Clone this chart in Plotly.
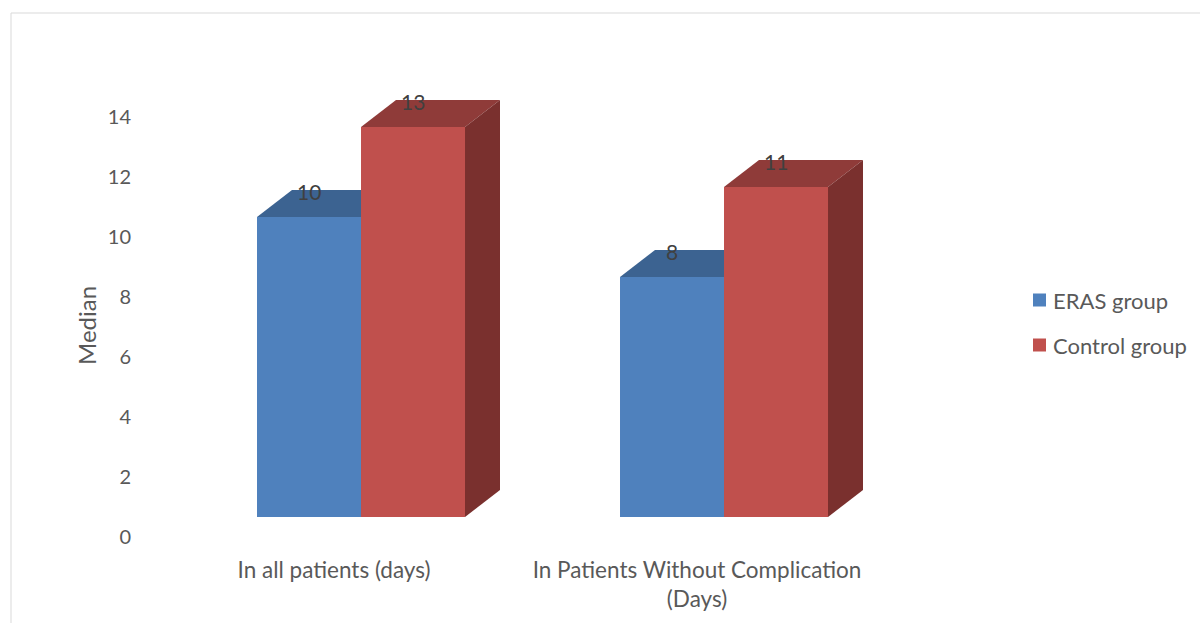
import plotly.graph_objects as go

# Median length of stay (days), 3D-style clustered columns
categories = ["In all patients (days)", "In Patients Without Complication<br>(Days)"]
series_names = ["ERAS group", "Control group"]
eras_values = [10, 8]
control_values = [13, 11]
y_ticks = [0, 2, 4, 6, 8, 10, 12, 14]

# face colours per series: front, top, side
face_colors = {
    "ERAS group": ("#4F81BD", "#3C6391", "#345782"),
    "Control group": ("#C0504D", "#8F3B39", "#7A302E"),
}

# geometry of the pseudo-3D columns (in axis units)
bar_w = 0.2865
first_bar_left = -0.2121
base = 0.667
depth_x = 0.0964
depth_y = 0.9

# plot area in pixels and the matching axis ranges
W, H = 1200, 623
L, R, T, B = 136, 1000, 40, 554
px_per_x = 363.0
px_per_y = 30.0
x_at_zero_px = 334.0
y_at_zero_px = 537.0
x_range = [(L - x_at_zero_px) / px_per_x, (R - x_at_zero_px) / px_per_x]
y_range = [(y_at_zero_px - B) / px_per_y, (y_at_zero_px - T) / px_per_y]


def px_x(p):
    return (p - L) / (R - L)


def px_y(p):
    return (B - p) / (B - T)


font_family = "Lato, 'Open Sans', sans-serif"
text_color = "#595959"

fig = go.Figure()


def poly(xs, ys, color):
    fig.add_trace(go.Scatter(
        x=xs + [xs[0]], y=ys + [ys[0]], fill="toself", fillcolor=color,
        mode="lines", line=dict(width=0, color=color),
        hoverinfo="skip", showlegend=False,
    ))


annotations = []
for ci, cat in enumerate(categories):
    for si, (name, vals) in enumerate(zip(series_names, [eras_values, control_values])):
        v = vals[ci]
        x0 = ci + first_bar_left + si * bar_w
        x1 = x0 + bar_w
        y0 = base
        y1 = base + v
        front, top, side = face_colors[name]
        # top face
        poly([x0, x1, x1 + depth_x, x0 + depth_x], [y1, y1, y1 + depth_y, y1 + depth_y], top)
        # right side face
        poly([x1, x1 + depth_x, x1 + depth_x, x1], [y0, y0 + depth_y, y1 + depth_y, y1], side)
        # front face
        poly([x0, x1, x1, x0], [y0, y0, y1, y1], front)
        annotations.append(dict(
            x=(x0 + x1) / 2, y=y1 + depth_y, xref="x", yref="y",
            text=str(v), showarrow=False, yshift=-2,
            font=dict(family=font_family, size=21, color="#404040"),
        ))

# legend: coloured squares with series names
shapes = []
for name, cy in zip(series_names, [300, 345]):
    shapes.append(dict(
        type="rect", xref="paper", yref="paper",
        x0=px_x(1033), x1=px_x(1046), y0=px_y(cy + 6.5), y1=px_y(cy - 6.5),
        line=dict(width=0), fillcolor=face_colors[name][0],
    ))
    annotations.append(dict(
        x=px_x(1051), y=px_y(cy), xref="paper", yref="paper",
        xanchor="left", yanchor="middle", text=name, showarrow=False,
        font=dict(family=font_family, size=22, color=text_color),
    ))

# y-axis title
annotations.append(dict(
    x=px_x(86), y=px_y(326), xref="paper", yref="paper",
    xanchor="center", yanchor="middle",
    text="Median", textangle=-90, showarrow=False,
    font=dict(family=font_family, size=24, color=text_color),
))

# chart frame
shapes.append(dict(
    type="rect", xref="paper", yref="paper",
    x0=px_x(11), x1=px_x(1260), y0=px_y(680), y1=px_y(13),
    line=dict(color="#D9D9D9", width=1), fillcolor="rgba(0,0,0,0)", layer="below",
))

fig.update_layout(
    width=W, height=H,
    margin=dict(l=L, r=W - R, t=T, b=H - B, autoexpand=False),
    paper_bgcolor="white", plot_bgcolor="white",
    showlegend=False,
    xaxis=dict(
        range=x_range, tickvals=[0, 1], ticktext=categories,
        showgrid=False, zeroline=False, showline=False, ticks="",
        tickfont=dict(family=font_family, size=22.5, color=text_color),
    ),
    yaxis=dict(
        range=y_range, tickvals=y_ticks, ticktext=[str(t) for t in y_ticks],
        showgrid=False, zeroline=False, showline=False, ticks="",
        ticklabelstandoff=4,
        tickfont=dict(family=font_family, size=20, color=text_color),
    ),
    annotations=annotations,
    shapes=shapes,
)

fig.write_html("out.html")
